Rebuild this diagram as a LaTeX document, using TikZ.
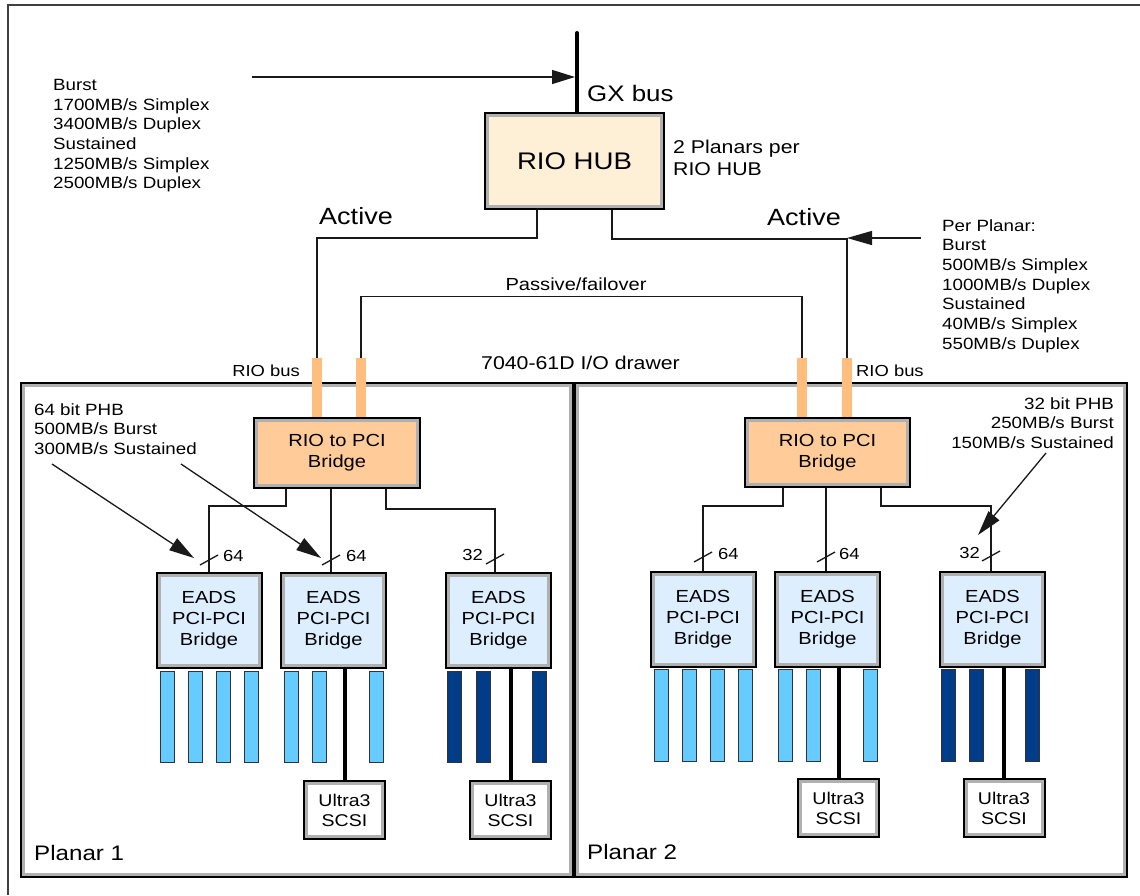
\documentclass[tikz,border=0pt]{standalone}
\usepackage{fontspec}
\setmainfont{Liberation Sans}[FakeStretch=1.15]
\usetikzlibrary{arrows.meta}

\definecolor{hubfill}{RGB}{253,240,214}
\definecolor{bridgefill}{RGB}{255,204,153}
\definecolor{stubfill}{RGB}{255,190,125}
\definecolor{eadsfill}{RGB}{221,239,255}
\definecolor{slotlight}{RGB}{102,204,255}
\definecolor{slotdark}{RGB}{0,60,135}
\definecolor{bandgray}{RGB}{176,176,176}

\newcommand{\setfs}[2]{\fontsize{#1}{#2}\selectfont}

\begin{document}
\begin{tikzpicture}[x=1pt,y=-1pt,
  wire/.style={draw=black!90, line width=1.3pt},
  busline/.style={draw=black, line width=4pt},
  arrowwire/.style={wire, -{Triangle[length=25pt,width=14pt]}},
  box/.style={rectangle, draw=black, line width=2pt, inner sep=0pt, align=center,
    path picture={\draw[bandgray, line width=8pt]
      (path picture bounding box.south west) rectangle (path picture bounding box.north east);}},
  planar/.style={box, fill=white, minimum width=552, minimum height=494},
  eads/.style={box, fill=eadsfill, minimum width=105, minimum height=95,
    font=\setfs{17.5}{21}},
  scsi/.style={box, fill=white, minimum width=81, minimum height=58,
    font=\setfs{17}{20}},
  bridge/.style={box, fill=bridgefill, font=\setfs{17.5}{21}},
  stub/.style={rectangle, fill=stubfill, draw=none, minimum width=10, minimum height=60, inner sep=0pt},
  slot/.style={draw=black!80, line width=0.8pt},
  txt/.style={inner sep=0pt, font=\setfs{16.3}{19.7}, align=left},
  lbl/.style={inner sep=0pt, font=\setfs{16}{19}},
  big/.style={inner sep=0pt, font=\setfs{23.5}{28}},
]
\useasboundingbox (0,0) rectangle (1140,895);

% outer frame
\draw[draw=black!75, line width=1.6pt] (8,895) -- (8,5) -- (1140,5);

% the two planars of the drawer
\node[planar] (planarA) at (297,630) {};
\node[planar] (planarB) at (851,630) {};

% RIO hub and GX bus
\node[box, fill=hubfill, minimum width=179, minimum height=96, font=\setfs{24}{28}] (hub) at (574.5,161) {RIO HUB};
\coordinate (gxtop) at (577,33);
\draw[busline, line cap=round] (gxtop) -- (gxtop |- hub.north);
\coordinate (gxsrc) at (252,77);
\path (gxsrc -| gxtop) coordinate (gxhit);
\draw[wire, -{Triangle[length=23pt,width=14pt]}] (gxsrc) -- ([xshift=-2pt]gxhit);
\node[big, anchor=base west, font=\setfs{22.5}{27}] (gxlabel) at (587,101) {GX bus};
\node[inner sep=0pt, anchor=north west, align=left, font=\setfs{18.5}{22}] (hubnote) at (673,139.5) {2 Planars per\\RIO HUB};

% rate notes
\node[txt, anchor=north west] (gxrates) at (53,79) {Burst\\1700MB/s Simplex\\3400MB/s Duplex\\Sustained\\1250MB/s Simplex\\2500MB/s Duplex};
\node[txt, anchor=north west] (riorates) at (942,219) {Per Planar:\\Burst\\500MB/s Simplex\\1000MB/s Duplex\\Sustained\\40MB/s Simplex\\550MB/s Duplex};

% RIO bus stubs
\node[stub] (stubA) at (317,388) {};
\node[stub] (stubB) at (361,388) {};
\node[stub] (stubC) at (802,388) {};
\node[stub] (stubD) at (847,388) {};

% hub links
\draw[wire] ([xshift=-37.5pt]hub.south) -- ++(0,28) -| (stubA.north);
\draw[wire] ([xshift=37.5pt]hub.south) -- ++(0,29) -| (stubD.north);
\draw[wire] (stubB.north) -- ++(0,-61) -| (stubC.north);
\coordinate (ppsrc) at (921,238);
\draw[arrowwire] (ppsrc) -- (ppsrc -| stubD);

\node[big, anchor=base west] (activeA) at (319,224) {Active};
\node[big, anchor=base west] (activeB) at (767,225) {Active};
\node[inner sep=0pt, anchor=base, font=\setfs{17.5}{21}] (passive) at (576,290) {Passive/failover};
\node[inner sep=0pt, anchor=base west, font=\setfs{18.5}{22}] (drawer) at (481,369) {7040-61D I/O drawer};
\node[lbl, anchor=base east] (riobusA) at (300,376) {RIO bus};
\node[lbl, anchor=base west] (riobusB) at (856,376) {RIO bus};

% RIO to PCI bridges
\node[bridge, minimum width=166, minimum height=70] (bridgeL) at (337,453) {RIO to PCI\\Bridge};
\node[bridge, minimum width=165, minimum height=69] (bridgeR) at (827.5,452.5) {RIO to PCI\\Bridge};

% EADS PCI-PCI bridges
\node[eads] (e1) at (209,620.5) {EADS\\PCI-PCI\\Bridge};
\node[eads] (e2) at (333.5,620.5) {EADS\\PCI-PCI\\Bridge};
\node[eads] (e3) at (498.5,620.5) {EADS\\PCI-PCI\\Bridge};
\node[eads] (f1) at (703,619.5) {EADS\\PCI-PCI\\Bridge};
\node[eads] (f2) at (827.5,619.5) {EADS\\PCI-PCI\\Bridge};
\node[eads] (f3) at (992.5,619.5) {EADS\\PCI-PCI\\Bridge};

% PCI slots
\foreach \sx in {167,195,223.5,251,291.5,319.5,376}
  \draw[slot, fill=slotlight] (\sx-7,671) rectangle (\sx+7,762);
\foreach \sx in {454.5,483,539}
  \draw[slot, fill=slotdark] (\sx-7,671) rectangle (\sx+7,762);
\foreach \sx in {661,689,717,745,785,813,870}
  \draw[slot, fill=slotlight] (\sx-7,669) rectangle (\sx+7,761);
\foreach \sx in {948,976,1032}
  \draw[slot, fill=slotdark] (\sx-7,669) rectangle (\sx+7,761);

% Ultra3 SCSI controllers
\node[scsi] (s1) at (344.5,810) {Ultra3\\SCSI};
\node[scsi] (s2) at (510.5,810) {Ultra3\\SCSI};
\node[scsi] (t1) at (838.5,808) {Ultra3\\SCSI};
\node[scsi] (t2) at (1004,808) {Ultra3\\SCSI};
\draw[busline] (s1.north |- e2.south) -- (s1.north);
\draw[busline] (s2.north |- e3.south) -- (s2.north);
\draw[busline] (t1.north |- f2.south) -- (t1.north);
\draw[busline] (t2.north |- f3.south) -- (t2.north);

% PCI host bridge links
\draw[wire] ([xshift=-51pt]bridgeL.south) -- ++(0,17) -| (e1.north);
\path ([xshift=-2.5pt]e2.north) coordinate (e2in);
\draw[wire] (e2in |- bridgeL.south) -- (e2in);
\draw[wire] ([xshift=49pt]bridgeL.south) -- ++(0,20) -| ([xshift=-3.5pt]e3.north);
\draw[wire] ([xshift=-44.5pt]bridgeR.south) -- ++(0,18) -| (f1.north);
\path ([xshift=-1.5pt]f2.north) coordinate (f2in);
\draw[wire] (f2in |- bridgeR.south) -- (f2in);
\draw[wire] ([xshift=53.5pt]bridgeR.south) -- ++(0,18) -| ([xshift=-1.5pt]f3.north);

% bus width marks
\path ([yshift=12pt]e1.north) coordinate (k1);
\path ([yshift=12pt]e2in) coordinate (k2);
\path ([xshift=-3.5pt,yshift=13pt]e3.north) coordinate (k3);
\path ([yshift=14pt]f1.north) coordinate (k4);
\path ([yshift=14pt]f2in) coordinate (k5);
\path ([xshift=-1.5pt,yshift=15pt]f3.north) coordinate (k6);
\foreach \k in {k1,k2,k3,k4,k5,k6}
  \draw[wire] (\k) +(-9,5) -- +(9,-5);
\node[lbl, anchor=west] (w1) at ([shift={(14,-4)}]k1) {64};
\node[lbl, anchor=west] (w2) at ([shift={(15,-4)}]k2) {64};
\node[lbl, anchor=east] (w3) at ([shift={(-12,-4)}]k3) {32};
\node[lbl, anchor=west] (w4) at ([shift={(15,-3)}]k4) {64};
\node[lbl, anchor=west] (w5) at ([shift={(13,-3)}]k5) {64};
\node[lbl, anchor=east] (w6) at ([shift={(-11,-3)}]k6) {32};

% PHB notes
\node[txt, anchor=north west] (phb64) at (34,403) {64 bit PHB\\500MB/s Burst\\300MB/s Sustained};
\node[txt, anchor=north east, align=right] (phb32) at (1114,397) {32 bit PHB\\250MB/s Burst\\150MB/s Sustained};
\coordinate (phbA) at (52,464);
\coordinate (phbB) at (181,464);
\coordinate (phbC) at (1046,453);
\draw[arrowwire] (phbA) -- ([shift={(-15,-2)}]k1);
\draw[arrowwire] (phbB) -- ([shift={(-10,-2)}]k2);
\draw[arrowwire] (phbC) -- ([shift={(-13,-21)}]k6);

% planar names
\node[inner sep=0pt, anchor=base west, font=\setfs{21}{25}] (pname1) at (34,860) {Planar 1};
\node[inner sep=0pt, anchor=base west, font=\setfs{21}{25}] (pname2) at (587,859) {Planar 2};
\end{tikzpicture}
\end{document}
